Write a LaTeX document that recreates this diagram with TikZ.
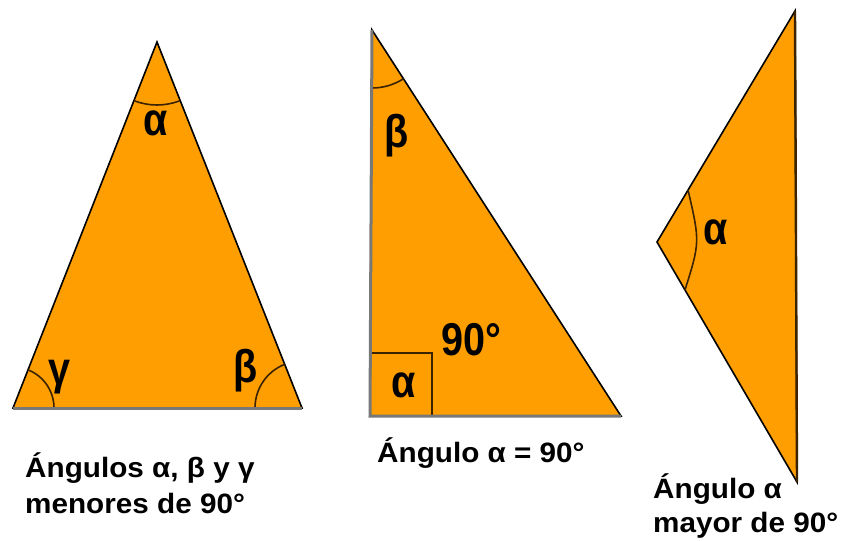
\documentclass[tikz,border=0pt]{standalone}
\usepackage{fontspec}
\setmainfont{Liberation Sans}
\newfontfamily\capfont[FakeStretch=1.06]{Liberation Sans}
\newfontfamily\lblfont[FakeStretch=0.86]{Liberation Sans}
\definecolor{triorange}{RGB}{255,158,0}
\definecolor{edgegray}{RGB}{120,120,120}
\definecolor{darkedge}{RGB}{60,35,0}
\begin{document}
\begin{tikzpicture}[x=1pt,y=-1pt,
  trishape/.style={fill=triorange,draw=black,line width=1.6pt,line join=miter},
  baseedge/.style={draw=edgegray,line width=3pt},
  darkline/.style={draw=darkedge,line width=2.4pt},
  arcline/.style={draw=darkedge,line width=1.6pt},
  lbl/.style={font=\lblfont\bfseries\fontsize{46}{46}\selectfont,inner sep=0pt},
  captext/.style={font=\capfont\bfseries\fontsize{28}{34}\selectfont,inner sep=0pt,anchor=base west}]
\useasboundingbox[fill=white] (0,0) rectangle (844,541);

% triangle 1
\coordinate (A1) at (157,42);
\coordinate (B1) at (13,408);
\coordinate (C1) at (302,408);
\filldraw[trishape] (A1) -- (B1) -- (C1) -- cycle;
\draw[arcline] (A1) ++(68.4:63) arc[start angle=68.4, end angle=111.5, radius=63];
\draw[arcline] (B1) ++(-68.5:41) arc[start angle=-68.5, end angle=0, radius=41];
\draw[arcline] (C1) ++(180:47) arc[start angle=180, end angle=248.4, radius=47];
\draw[baseedge] (B1) -- (C1);
\node[lbl] (a1) at (156,123) {α};
\node[lbl] (g1) at (60,377) {γ};
\node[lbl] (b1) at (246,371) {β};

% triangle 2
\coordinate (A2) at (372,30);
\coordinate (B2) at (370,416);
\coordinate (C2) at (621,416);
\coordinate (S1) at (370,353);
\coordinate (S2) at (432,416);
\filldraw[trishape] (A2) -- (B2) -- (C2) -- cycle;
\draw[arcline] (A2) ++(57.2:58) arc[start angle=57.2, end angle=90.3, radius=58];
\draw[darkline] (S1) -| (S2);
\draw[baseedge] (A2) -- (B2) -- (C2);
\node[lbl] (b2) at (397,136) {β};
\node[lbl] (a2) at (404,385) {α};
\node[lbl] (n90) at (471,340) {90°};

% triangle 3
\coordinate (A3) at (795,11);
\coordinate (B3) at (657,242);
\coordinate (C3) at (797,482);
\filldraw[trishape] (A3) -- (B3) -- (C3) -- cycle;
\path (B3) -- (A3) coordinate[pos=0.225] (p1);
\path (B3) -- (C3) coordinate[pos=0.2] (p2);
\coordinate (pc) at (700,242);
\draw[arcline] (p1) .. controls (pc) .. (p2);
\draw[darkline] (A3) -- (C3);
\node[lbl] (a3) at (716,232) {α};

% captions
\node[captext] (c1a) at (25,477) {Ángulos α, β y γ};
\node[captext] (c1b) at (25,513) {menores de 90°};
\node[captext] (c2) at (377,462) {Ángulo α = 90°};
\node[captext] (c3a) at (653,498) {Ángulo α};
\node[captext] (c3b) at (653,532) {mayor de 90°};
\end{tikzpicture}
\end{document}
